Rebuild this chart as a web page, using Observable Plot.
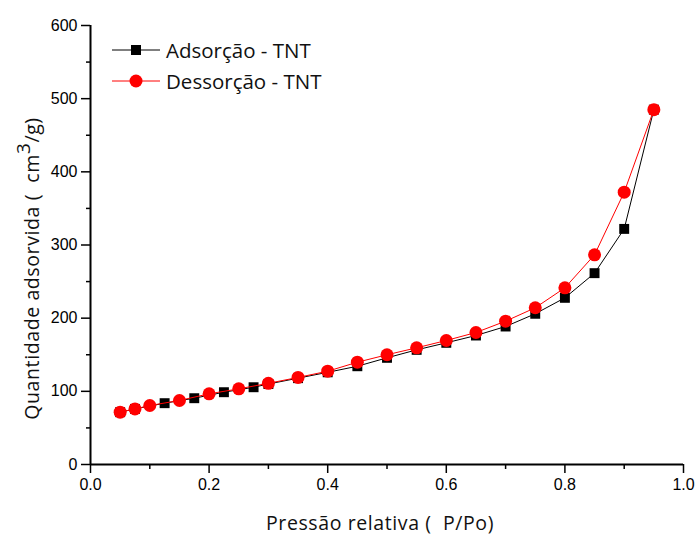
<!DOCTYPE html>
<html>
<head>
<meta charset="utf-8">
<script src="https://cdn.jsdelivr.net/npm/d3@7"></script>
<script src="https://cdn.jsdelivr.net/npm/@observablehq/plot@0.6"></script>
<style>
  html, body { margin: 0; padding: 0; background: #fff; }
  #wrap { position: relative; width: 697px; height: 534px; }
  .lbl { position: absolute; font-family: "Open Sans", sans-serif; color: #111; white-space: pre; letter-spacing: 0.6px; }
  .legend { position: absolute; left: 110px; top: 34px; font-family: "Open Sans", sans-serif; font-size: 20.5px; color: #111; }
  .legend div { display: flex; align-items: center; height: 31px; }
  .legend svg { margin-right: 6px; }
</style>
</head>
<body>
<div id="wrap"></div>
<script>
// Data
const adsX = [0.05, 0.075, 0.125, 0.175, 0.225, 0.275, 0.30, 0.35, 0.40, 0.45, 0.50, 0.55, 0.60, 0.65, 0.70, 0.75, 0.80, 0.85, 0.90, 0.95];
const adsY = [71.5, 76, 83.8, 90.6, 98.8, 105.6, 110, 118, 126, 134.3, 145.8, 156.7, 166.3, 176.3, 188.6, 206, 227.8, 261.5, 322, 485];
const desX = [0.05, 0.075, 0.10, 0.15, 0.20, 0.25, 0.30, 0.35, 0.40, 0.45, 0.50, 0.55, 0.60, 0.65, 0.70, 0.75, 0.80, 0.85, 0.90, 0.95];
const desY = [71.5, 76, 80.6, 87.5, 96.6, 103.4, 111, 119, 127.5, 139.8, 150, 159.5, 169.5, 180.4, 195.9, 214.2, 241.5, 286.6, 372.2, 485];
const xMajor = [0, 0.2, 0.4, 0.6, 0.8, 1.0];
const xMinor = [0.1, 0.3, 0.5, 0.7, 0.9];
const yMajor = [0, 100, 200, 300, 400, 500, 600];
const yMinor = [50, 150, 250, 350, 450, 550];
const seriesNames = ["Adsorção - TNT", "Dessorção - TNT"];
const xLabel = "Pressão relativa (  P/Po)";

const ads = adsX.map((x, i) => ({x, y: adsY[i]}));
const des = desX.map((x, i) => ({x, y: desY[i]}));

const tickFont = "'Liberation Sans Narrow', 'Liberation Sans', sans-serif";

const chart = Plot.plot({
  width: 697, height: 534,
  marginLeft: 90, marginRight: 14, marginTop: 25, marginBottom: 70,
  style: { fontFamily: tickFont, fontSize: "16px", color: "#000", background: "#fff", overflow: "visible" },
  x: { domain: [0, 1] },
  y: { domain: [0, 600] },
  marks: [
    Plot.axisX(xMajor, { tickSize: 9, tickPadding: 5, tickFormat: d3.format(".1f"), fontSize: 16, label: null, strokeWidth: 1.5 }),
    Plot.axisX(xMinor, { tickSize: 5, tickFormat: null, text: null, label: null, strokeWidth: 1.5 }),
    Plot.axisY(yMajor, { tickSize: 9, tickPadding: 4, fontSize: 16, label: null, strokeWidth: 1.5 }),
    Plot.axisY(yMinor, { tickSize: 4, text: null, label: null, strokeWidth: 1.5 }),
    Plot.ruleY([0], { stroke: "#000", strokeWidth: 2 }),
    Plot.ruleX([0], { stroke: "#000", strokeWidth: 2 }),
    Plot.line(ads, { x: "x", y: "y", stroke: "#000", strokeWidth: 1 }),
    Plot.dot(ads, { x: "x", y: "y", symbol: "square", r: 5.6, fill: "#000", stroke: "none" }),
    Plot.line(des, { x: "x", y: "y", stroke: "#ff0000", strokeWidth: 1 }),
    Plot.dot(des, { x: "x", y: "y", symbol: "circle", r: 6.5, fill: "#ff0000", stroke: "none" })
  ]
});

const wrap = document.getElementById("wrap");
wrap.appendChild(chart);

// Axis titles
const xl = document.createElement("div");
xl.className = "lbl";
xl.style.fontSize = "19.5px";
xl.textContent = xLabel;
wrap.appendChild(xl);
xl.style.left = (380 - xl.offsetWidth / 2) + "px";
xl.style.top = (522 - xl.offsetHeight / 2) + "px";

const yl = document.createElement("div");
yl.className = "lbl";
yl.style.fontSize = "19.5px";
yl.innerHTML = "Quantidade adsorvida (  cm<sup style='font-size:19px;vertical-align:0.45em;line-height:0'>3</sup>/g)";
wrap.appendChild(yl);
const w = yl.offsetWidth, h = yl.offsetHeight;
yl.style.left = (31 - w / 2) + "px";
yl.style.top = (268 - h / 2) + "px";
yl.style.transform = "rotate(-90deg)";

// Legend
const lg = document.createElement("div");
lg.className = "legend";
const sw = (color, shape) => {
  const s = d3.create("svg").attr("width", 50).attr("height", 16);
  s.append("line").attr("x1", 2).attr("x2", 50).attr("y1", 8).attr("y2", 8).attr("stroke", color).attr("stroke-width", 1);
  if (shape === "square") s.append("rect").attr("x", 21).attr("y", 3).attr("width", 10).attr("height", 10).attr("fill", color);
  else s.append("circle").attr("cx", 26).attr("cy", 8).attr("r", 6.5).attr("fill", color);
  return s.node();
};
[["#000", "square"], ["#ff0000", "circle"]].forEach(([c, sh], i) => {
  const row = document.createElement("div");
  row.appendChild(sw(c, sh));
  const t = document.createElement("span");
  t.textContent = seriesNames[i];
  row.appendChild(t);
  lg.appendChild(row);
});
wrap.appendChild(lg);
</script>
</body>
</html>
